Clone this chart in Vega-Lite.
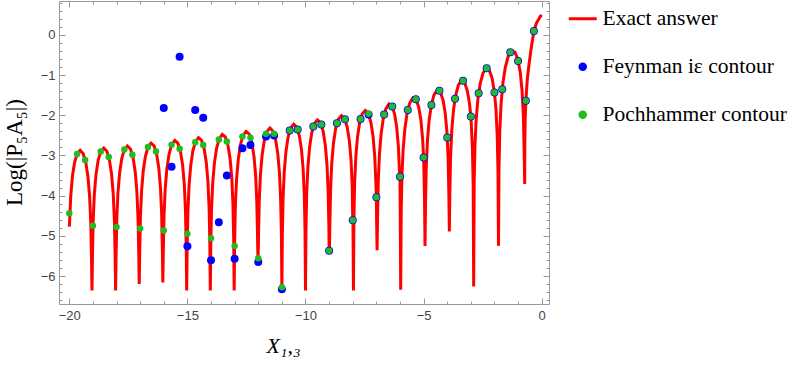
{
  "$schema": "https://vega.github.io/schema/vega-lite/v6.json",
  "width": 490,
  "height": 303,
  "autosize": {"type": "none"},
  "padding": {"left": 59, "top": 1, "right": 244, "bottom": 64},
  "background": "white",
  "config": {
    "view": {"stroke": "#999999", "strokeWidth": 1},
    "axis": {"domain": false, "grid": false, "tickColor": "#999999", "tickWidth": 1, "labelFont": "Liberation Sans", "labelFontSize": 13, "labelColor": "#444444", "titleFont": "Liberation Serif", "titleFontWeight": "normal", "titleColor": "#000000", "titleFontSize": 22}
  },
  "datasets": {
    "curve": [
      {"x": -20, "y": -4.77}, {"x": -19.99, "y": -4.685}, {"x": -19.94, "y": -4.02}, {"x": -19.87, "y": -3.53}, {"x": -19.78, "y": -3.18}, {"x": -19.67, "y": -2.956}, {"x": -19.54, "y": -2.872}, {"x": -19.41, "y": -2.956}, {"x": -19.3, "y": -3.18}, {"x": -19.21, "y": -3.53}, {"x": -19.14, "y": -4.02}, {"x": -19.09, "y": -4.685}, {"x": -19.06, "y": -5.577}, {"x": -19.04, "y": -6.36},
      {"x": -19.02, "y": -5.528}, {"x": -18.99, "y": -4.635}, {"x": -18.94, "y": -3.969}, {"x": -18.87, "y": -3.48}, {"x": -18.78, "y": -3.127}, {"x": -18.67, "y": -2.9}, {"x": -18.54, "y": -2.814}, {"x": -18.41, "y": -2.896}, {"x": -18.3, "y": -3.119}, {"x": -18.21, "y": -3.468}, {"x": -18.14, "y": -3.954}, {"x": -18.09, "y": -4.619}, {"x": -18.06, "y": -5.51}, {"x": -18.04, "y": -6.36},
      {"x": -18.02, "y": -5.488}, {"x": -17.99, "y": -4.595}, {"x": -17.94, "y": -3.927}, {"x": -17.87, "y": -3.436}, {"x": -17.78, "y": -3.08}, {"x": -17.67, "y": -2.85}, {"x": -17.54, "y": -2.76}, {"x": -17.41, "y": -2.838}, {"x": -17.3, "y": -3.057}, {"x": -17.21, "y": -3.404}, {"x": -17.14, "y": -3.888}, {"x": -17.09, "y": -4.551}, {"x": -17.06, "y": -5.442}, {"x": -17.04, "y": -6.2},
      {"x": -17.02, "y": -5.448}, {"x": -16.99, "y": -4.553}, {"x": -16.94, "y": -3.882}, {"x": -16.87, "y": -3.387}, {"x": -16.78, "y": -3.026}, {"x": -16.67, "y": -2.79}, {"x": -16.54, "y": -2.692}, {"x": -16.41, "y": -2.762}, {"x": -16.3, "y": -2.976}, {"x": -16.21, "y": -3.317}, {"x": -16.14, "y": -3.797}, {"x": -16.09, "y": -4.457}, {"x": -16.06, "y": -5.346}, {"x": -16.04, "y": -6.16},
      {"x": -16.02, "y": -5.398}, {"x": -15.99, "y": -4.502}, {"x": -15.94, "y": -3.83}, {"x": -15.87, "y": -3.333}, {"x": -15.777, "y": -2.97}, {"x": -15.666, "y": -2.73}, {"x": -15.535, "y": -2.628}, {"x": -15.404, "y": -2.694}, {"x": -15.293, "y": -2.904}, {"x": -15.202, "y": -3.243}, {"x": -15.131, "y": -3.721}, {"x": -15.081, "y": -4.38}, {"x": -15.05, "y": -5.268}, {"x": -15.03, "y": -6.36},
      {"x": -15.01, "y": -5.316}, {"x": -14.98, "y": -4.42}, {"x": -14.93, "y": -3.749}, {"x": -14.86, "y": -3.253}, {"x": -14.77, "y": -2.892}, {"x": -14.66, "y": -2.654}, {"x": -14.53, "y": -2.556}, {"x": -14.4, "y": -2.625}, {"x": -14.29, "y": -2.837}, {"x": -14.2, "y": -3.178}, {"x": -14.13, "y": -3.657}, {"x": -14.08, "y": -4.317}, {"x": -14.05, "y": -5.205}, {"x": -14.03, "y": -6.36},
      {"x": -14.01, "y": -5.267}, {"x": -13.98, "y": -4.369}, {"x": -13.929, "y": -3.695}, {"x": -13.858, "y": -3.195}, {"x": -13.767, "y": -2.829}, {"x": -13.656, "y": -2.585}, {"x": -13.525, "y": -2.478}, {"x": -13.394, "y": -2.539}, {"x": -13.283, "y": -2.745}, {"x": -13.192, "y": -3.081}, {"x": -13.121, "y": -3.556}, {"x": -13.071, "y": -4.213}, {"x": -13.04, "y": -5.099}, {"x": -13.02, "y": -6.36},
      {"x": -13.0, "y": -5.164}, {"x": -12.97, "y": -4.268}, {"x": -12.919, "y": -3.596}, {"x": -12.848, "y": -3.1}, {"x": -12.757, "y": -2.738}, {"x": -12.646, "y": -2.499}, {"x": -12.515, "y": -2.399}, {"x": -12.384, "y": -2.466}, {"x": -12.273, "y": -2.678}, {"x": -12.182, "y": -3.017}, {"x": -12.111, "y": -3.496}, {"x": -12.061, "y": -4.155}, {"x": -12.03, "y": -5.044}, {"x": -12.01, "y": -5.65},
      {"x": -11.99, "y": -5.046}, {"x": -11.96, "y": -4.153}, {"x": -11.909, "y": -3.485}, {"x": -11.838, "y": -2.994}, {"x": -11.747, "y": -2.638}, {"x": -11.636, "y": -2.408}, {"x": -11.505, "y": -2.317}, {"x": -11.374, "y": -2.395}, {"x": -11.263, "y": -2.614}, {"x": -11.172, "y": -2.96}, {"x": -11.101, "y": -3.445}, {"x": -11.051, "y": -4.108}, {"x": -11.02, "y": -4.998}, {"x": -11.0, "y": -6.36},
      {"x": -10.98, "y": -4.972}, {"x": -10.95, "y": -4.078}, {"x": -10.9, "y": -3.407}, {"x": -10.83, "y": -2.914}, {"x": -10.74, "y": -2.555}, {"x": -10.63, "y": -2.32}, {"x": -10.5, "y": -2.224}, {"x": -10.37, "y": -2.296}, {"x": -10.26, "y": -2.511}, {"x": -10.17, "y": -2.854}, {"x": -10.1, "y": -3.336}, {"x": -10.05, "y": -3.997}, {"x": -10.02, "y": -4.886}, {"x": -10.0, "y": -6.36},
      {"x": -9.98, "y": -4.861}, {"x": -9.95, "y": -3.966}, {"x": -9.899, "y": -3.296}, {"x": -9.828, "y": -2.802}, {"x": -9.737, "y": -2.443}, {"x": -9.626, "y": -2.208}, {"x": -9.495, "y": -2.112}, {"x": -9.364, "y": -2.183}, {"x": -9.253, "y": -2.398}, {"x": -9.162, "y": -2.741}, {"x": -9.091, "y": -3.222}, {"x": -9.041, "y": -3.883}, {"x": -9.01, "y": -4.772}, {"x": -9.0, "y": -5.37}, {"x": -8.99, "y": -5.45},
      {"x": -8.97, "y": -4.754}, {"x": -8.939, "y": -3.86}, {"x": -8.888, "y": -3.19}, {"x": -8.817, "y": -2.696}, {"x": -8.725, "y": -2.337}, {"x": -8.613, "y": -2.102}, {"x": -8.48, "y": -2.006}, {"x": -8.347, "y": -2.078}, {"x": -8.235, "y": -2.293}, {"x": -8.143, "y": -2.636}, {"x": -8.072, "y": -3.118}, {"x": -8.021, "y": -3.779}, {"x": -8.0, "y": -4.61}, {"x": -7.99, "y": -4.668}, {"x": -7.97, "y": -6.36},
      {"x": -7.95, "y": -4.597}, {"x": -7.92, "y": -3.704}, {"x": -7.87, "y": -3.037}, {"x": -7.8, "y": -2.548}, {"x": -7.71, "y": -2.194}, {"x": -7.6, "y": -1.965}, {"x": -7.47, "y": -1.877}, {"x": -7.34, "y": -1.957}, {"x": -7.23, "y": -2.178}, {"x": -7.14, "y": -2.526}, {"x": -7.07, "y": -3.012}, {"x": -7.02, "y": -3.676}, {"x": -7.0, "y": -4.04}, {"x": -6.99, "y": -4.567}, {"x": -6.97, "y": -5.36},
      {"x": -6.95, "y": -4.553}, {"x": -6.92, "y": -3.653}, {"x": -6.87, "y": -2.974}, {"x": -6.8, "y": -2.467}, {"x": -6.71, "y": -2.092}, {"x": -6.6, "y": -1.838}, {"x": -6.47, "y": -1.719}, {"x": -6.34, "y": -1.768}, {"x": -6.23, "y": -1.964}, {"x": -6.14, "y": -2.291}, {"x": -6.07, "y": -2.759}, {"x": -6.02, "y": -3.411}, {"x": -6.0, "y": -3.53}, {"x": -5.99, "y": -4.295}, {"x": -5.97, "y": -6.34},
      {"x": -5.949, "y": -4.442}, {"x": -5.919, "y": -3.54}, {"x": -5.867, "y": -2.857}, {"x": -5.795, "y": -2.345}, {"x": -5.702, "y": -1.962}, {"x": -5.589, "y": -1.699}, {"x": -5.455, "y": -1.57}, {"x": -5.321, "y": -1.608}, {"x": -5.208, "y": -1.795}, {"x": -5.115, "y": -2.114}, {"x": -5.043, "y": -2.577}, {"x": -5.0, "y": -3.05}, {"x": -4.992, "y": -3.226}, {"x": -4.961, "y": -4.107}, {"x": -4.94, "y": -5.25},
      {"x": -4.919, "y": -4.207}, {"x": -4.889, "y": -3.307}, {"x": -4.837, "y": -2.628}, {"x": -4.765, "y": -2.122}, {"x": -4.672, "y": -1.746}, {"x": -4.559, "y": -1.492}, {"x": -4.425, "y": -1.373}, {"x": -4.291, "y": -1.422}, {"x": -4.178, "y": -1.618}, {"x": -4.085, "y": -1.945}, {"x": -4.013, "y": -2.413}, {"x": -4.0, "y": -2.55}, {"x": -3.962, "y": -3.065}, {"x": -3.931, "y": -3.949}, {"x": -3.91, "y": -4.89},
      {"x": -3.889, "y": -3.949}, {"x": -3.859, "y": -3.051}, {"x": -3.807, "y": -2.374}, {"x": -3.735, "y": -1.87}, {"x": -3.642, "y": -1.499}, {"x": -3.529, "y": -1.249}, {"x": -3.395, "y": -1.135}, {"x": -3.261, "y": -1.189}, {"x": -3.148, "y": -1.389}, {"x": -3.055, "y": -1.72}, {"x": -3.0, "y": -2.03}, {"x": -2.983, "y": -2.191}, {"x": -2.932, "y": -2.845}, {"x": -2.901, "y": -3.731}, {"x": -2.88, "y": -6.26},
      {"x": -2.859, "y": -3.692}, {"x": -2.828, "y": -2.79}, {"x": -2.775, "y": -2.109}, {"x": -2.702, "y": -1.599}, {"x": -2.607, "y": -1.22}, {"x": -2.492, "y": -0.96}, {"x": -2.355, "y": -0.835}, {"x": -2.219, "y": -0.878}, {"x": -2.103, "y": -1.068}, {"x": -2.009, "y": -1.391}, {"x": -2.0, "y": -1.43}, {"x": -1.935, "y": -1.856}, {"x": -1.883, "y": -2.506}, {"x": -1.851, "y": -3.388}, {"x": -1.83, "y": -5.25},
      {"x": -1.808, "y": -3.296}, {"x": -1.775, "y": -2.392}, {"x": -1.719, "y": -1.706}, {"x": -1.641, "y": -1.19}, {"x": -1.541, "y": -0.803}, {"x": -1.419, "y": -0.534}, {"x": -1.275, "y": -0.398}, {"x": -1.131, "y": -0.429}, {"x": -1.009, "y": -0.61}, {"x": -1.0, "y": -0.65}, {"x": -0.909, "y": -0.924}, {"x": -0.831, "y": -1.384}, {"x": -0.775, "y": -2.029}, {"x": -0.742, "y": -2.909}, {"x": -0.72, "y": -3.71},
      {"x": -0.715, "y": -2.7}, {"x": -0.7, "y": -2.1}, {"x": -0.67, "y": -1.64}, {"x": -0.61, "y": -1.1}, {"x": -0.54, "y": -0.75}, {"x": -0.45, "y": -0.35}, {"x": -0.33, "y": 0.1}, {"x": -0.22, "y": 0.3}, {"x": -0.14, "y": 0.38}, {"x": -0.06, "y": 0.46}, {"x": 0.0, "y": 0.5}
    ],
    "blue": [
      {"x": -16, "y": -1.82}, {"x": -15.67, "y": -3.28}, {"x": -15.33, "y": -0.54}, {"x": -15, "y": -5.26}, {"x": -14.67, "y": -1.87}, {"x": -14.33, "y": -2.06}, {"x": -14, "y": -5.61}, {"x": -13.67, "y": -4.66}, {"x": -13.33, "y": -3.5}, {"x": -13, "y": -5.57}, {"x": -12.67, "y": -2.82}, {"x": -12.33, "y": -2.74}, {"x": -12, "y": -5.65}, {"x": -11.67, "y": -2.53}, {"x": -11.33, "y": -2.5}, {"x": -11, "y": -6.33},
      {"x": -10.67, "y": -2.38}, {"x": -10.33, "y": -2.35}, {"x": -9.67, "y": -2.28}, {"x": -9.33, "y": -2.23}, {"x": -9, "y": -5.37}, {"x": -8.67, "y": -2.2}, {"x": -8.33, "y": -2.1}, {"x": -8, "y": -4.61}, {"x": -7.67, "y": -2.09}, {"x": -7.33, "y": -1.98}, {"x": -7, "y": -4.04}, {"x": -6.67, "y": -1.98}, {"x": -6.33, "y": -1.78}, {"x": -6, "y": -3.53}, {"x": -5.67, "y": -1.87}, {"x": -5.33, "y": -1.6}, {"x": -5, "y": -3.05}, {"x": -4.67, "y": -1.74}, {"x": -4.33, "y": -1.39}, {"x": -4, "y": -2.55}, {"x": -3.67, "y": -1.59}, {"x": -3.33, "y": -1.14}, {"x": -3, "y": -2.03}, {"x": -2.67, "y": -1.45}, {"x": -2.33, "y": -0.83}, {"x": -2, "y": -1.43}, {"x": -1.67, "y": -1.35}, {"x": -1.33, "y": -0.43}, {"x": -1, "y": -0.65}, {"x": -0.67, "y": -1.64}, {"x": -0.33, "y": 0.1}
    ],
    "green": [
      {"x": -20, "y": -4.44}, {"x": -19.67, "y": -2.96}, {"x": -19.33, "y": -3.11}, {"x": -19, "y": -4.75}, {"x": -18.67, "y": -2.9}, {"x": -18.33, "y": -3.04}, {"x": -18, "y": -4.78}, {"x": -17.67, "y": -2.85}, {"x": -17.33, "y": -2.98}, {"x": -17, "y": -4.82}, {"x": -16.67, "y": -2.79}, {"x": -16.33, "y": -2.9}, {"x": -16, "y": -4.87}, {"x": -15.67, "y": -2.73}, {"x": -15.33, "y": -2.83}, {"x": -15, "y": -4.95}, {"x": -14.67, "y": -2.67}, {"x": -14.33, "y": -2.74}, {"x": -14, "y": -5.06}, {"x": -13.67, "y": -2.6}, {"x": -13.33, "y": -2.65}, {"x": -13, "y": -5.25}, {"x": -12.67, "y": -2.53}, {"x": -12.33, "y": -2.56}, {"x": -12, "y": -5.56}, {"x": -11.67, "y": -2.46}, {"x": -11.33, "y": -2.46}, {"x": -11, "y": -6.28},
      {"x": -10.67, "y": -2.38}, {"x": -10.33, "y": -2.35}, {"x": -9.67, "y": -2.28}, {"x": -9.33, "y": -2.23}, {"x": -9, "y": -5.37}, {"x": -8.67, "y": -2.2}, {"x": -8.33, "y": -2.1}, {"x": -8, "y": -4.61}, {"x": -7.67, "y": -2.09}, {"x": -7.33, "y": -1.96}, {"x": -7, "y": -4.04}, {"x": -6.67, "y": -1.98}, {"x": -6.33, "y": -1.78}, {"x": -6, "y": -3.53}, {"x": -5.67, "y": -1.87}, {"x": -5.33, "y": -1.6}, {"x": -5, "y": -3.05}, {"x": -4.67, "y": -1.74}, {"x": -4.33, "y": -1.39}, {"x": -4, "y": -2.55}, {"x": -3.67, "y": -1.59}, {"x": -3.33, "y": -1.14}, {"x": -3, "y": -2.03}, {"x": -2.67, "y": -1.45}, {"x": -2.33, "y": -0.83}, {"x": -2, "y": -1.43}, {"x": -1.67, "y": -1.35}, {"x": -1.33, "y": -0.43}, {"x": -1, "y": -0.65}, {"x": -0.67, "y": -1.64}, {"x": -0.33, "y": 0.1}
    ]
  },
  "layer": [
    {
      "data": {"name": "curve"},
      "transform": [{"calculate": "'Exact answer'", "as": "series"}],
      "mark": {"type": "line", "strokeWidth": 3, "clip": true, "color": "#ff0000"},
      "encoding": {
        "x": {"field": "x", "type": "quantitative", "scale": {"domain": [-20.436, 0.309], "nice": false, "zero": false},
              "axis": {"orient": "bottom", "values": [-20, -15, -10, -5, 0], "tickSize": -6, "labelPadding": 11, "title": "X₁,₃", "titleFontStyle": "italic", "titleX": 224, "titleY": 41, "titleAlign": "center", "titleBaseline": "middle"}},
        "y": {"field": "y", "type": "quantitative", "scale": {"domain": [-6.697, 0.846], "nice": false, "zero": false},
              "axis": {"orient": "left", "values": [-6, -5, -4, -3, -2, -1, 0], "tickSize": -6, "labelPadding": 10, "title": "Log(|P₅A₅|)", "titleFontSize": 23, "titleX": -45, "titleY": 151, "titleAngle": 270, "titleAlign": "center", "titleBaseline": "middle"}},
        "color": {"field": "series", "type": "nominal",
                  "scale": {"domain": ["Exact answer", "Feynman iε contour", "Pochhammer contour"], "range": ["#ff0000", "#0000ff", "#22bb22"]},
                  "legend": {"orient": "none", "legendX": 513, "legendY": 7, "title": null, "padding": 0,
                             "labelFont": "Liberation Serif", "labelFontSize": 21.5, "labelColor": "#000000", "labelLimit": 300,
                             "symbolSize": 784, "labelOffset": 9, "rowPadding": 25,
                             "encode": {"symbols": {"update": {
                               "shape": {"signal": "datum.value === 'Exact answer' ? 'stroke' : 'circle'"},
                               "size": {"signal": "datum.value === 'Exact answer' ? 784 : 72"},
                               "strokeWidth": {"signal": "datum.value === 'Exact answer' ? 3 : 0"},
                               "stroke": {"value": "#ff0000"},
                               "fill": {"signal": "datum.value === 'Exact answer' ? 'transparent' : (datum.value === 'Pochhammer contour' ? '#22bb22' : '#0000ff')"},
                               "opacity": {"value": 1}, "fillOpacity": {"value": 1}, "strokeOpacity": {"value": 1}}}}}}
      }
    },
    {
      "data": {"name": "blue"},
      "transform": [{"calculate": "'Feynman iε contour'", "as": "series"}],
      "mark": {"type": "circle", "size": 64, "opacity": 1},
      "encoding": {
        "x": {"field": "x", "type": "quantitative", "axis": {"orient": "bottom", "values": [-19, -18, -17, -16, -14, -13, -12, -11, -9, -8, -7, -6, -4, -3, -2, -1], "tickSize": -3, "labels": false, "title": null}},
        "y": {"field": "y", "type": "quantitative", "axis": {"orient": "left", "values": [-6.6, -6.4, -6.2, -5.8, -5.6, -5.4, -5.2, -4.8, -4.6, -4.4, -4.2, -3.8, -3.6, -3.4, -3.2, -2.8, -2.6, -2.4, -2.2, -1.8, -1.6, -1.4, -1.2, -0.8, -0.6, -0.4, -0.2, 0.2, 0.4, 0.6, 0.8], "tickSize": -3, "labels": false, "title": null}},
        "color": {"field": "series", "type": "nominal"}
      }
    },
    {
      "data": {"name": "green"},
      "transform": [{"calculate": "'Pochhammer contour'", "as": "series"}],
      "mark": {"type": "circle", "size": 42, "opacity": 1},
      "encoding": {
        "x": {"field": "x", "type": "quantitative", "axis": {"orient": "top", "values": [-20, -15, -10, -5, 0], "tickSize": -6, "labels": false, "title": null}},
        "y": {"field": "y", "type": "quantitative", "axis": {"orient": "right", "values": [-6, -5, -4, -3, -2, -1, 0], "tickSize": -6, "labels": false, "title": null}},
        "color": {"field": "series", "type": "nominal"}
      }
    },
    {
      "data": {"name": "green"},
      "mark": {"type": "circle", "size": 1, "opacity": 0},
      "encoding": {
        "x": {"field": "x", "type": "quantitative", "axis": {"orient": "top", "values": [-19, -18, -17, -16, -14, -13, -12, -11, -9, -8, -7, -6, -4, -3, -2, -1], "tickSize": -3, "labels": false, "title": null}},
        "y": {"field": "y", "type": "quantitative", "axis": {"orient": "right", "values": [-6.6, -6.4, -6.2, -5.8, -5.6, -5.4, -5.2, -4.8, -4.6, -4.4, -4.2, -3.8, -3.6, -3.4, -3.2, -2.8, -2.6, -2.4, -2.2, -1.8, -1.6, -1.4, -1.2, -0.8, -0.6, -0.4, -0.2, 0.2, 0.4, 0.6, 0.8], "tickSize": -3, "labels": false, "title": null}}
      }
    }
  ],
  "resolve": {"axis": {"x": "independent", "y": "independent"}}
}
